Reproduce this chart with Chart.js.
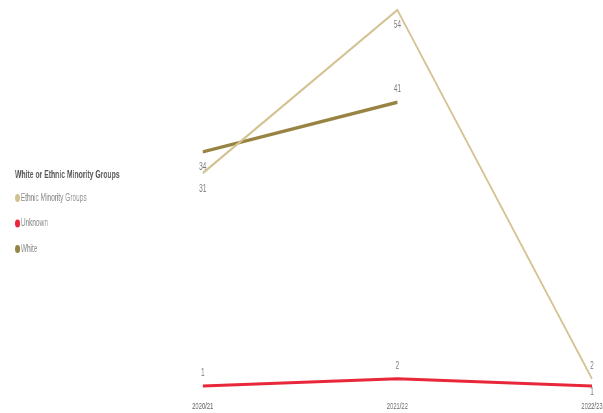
<!DOCTYPE html>
<html>
<head>
<meta charset="utf-8">
<script src="https://cdn.jsdelivr.net/npm/chart.js@4.4.1/dist/chart.umd.min.js"></script>
<style>
  html, body { margin: 0; padding: 0; background: #fff; overflow: hidden; }
  canvas { display: block; }
</style>
</head>
<body>
<!-- the canvas is drawn wider than it is shown, giving the condensed look -->
<canvas id="chart" width="928" height="413" style="width:603px;height:413px"></canvas>
<script>
// Academic years on the x axis
const categories = ['2020/21', '2021/22', '2022/23'];

// Headcount per group
const ethnicMinority = [31, 54, 2];
const unknown = [1, 2, 1];
const white = [34, 41, null];

const legendTitle = 'White or Ethnic Minority Groups';

const FONT = "'Liberation Sans', Arial, sans-serif";

// Value labels next to each point; offset is set per dataset
const pointLabels = {
  id: 'pointLabels',
  afterDatasetsDraw(chart) {
    const ctx = chart.ctx;
    ctx.save();
    ctx.font = `10px ${FONT}`;
    ctx.fillStyle = '#777';
    ctx.textAlign = 'center';
    ctx.textBaseline = 'middle';
    chart.data.datasets.forEach((ds, i) => {
      const meta = chart.getDatasetMeta(i);
      meta.data.forEach((pt, j) => {
        const v = ds.data[j];
        if (v === null || v === undefined) return;
        ctx.fillText(String(v), pt.x, pt.y + ds.labelOffset[j]);
      });
    });
    ctx.restore();
  }
};

// Legend with a title, drawn in the left margin
const sideLegend = {
  id: 'sideLegend',
  afterDraw(chart, args, opts) {
    const ctx = chart.ctx;
    ctx.save();
    ctx.textAlign = 'left';
    ctx.textBaseline = 'middle';
    ctx.font = `bold 10.5px ${FONT}`;
    ctx.fillStyle = '#555';
    ctx.fillText(opts.title, opts.x, opts.top);
    ctx.font = `10px ${FONT}`;
    chart.data.datasets.forEach((ds, i) => {
      const y = opts.top + opts.gap + i * opts.spacing;
      ctx.beginPath();
      ctx.fillStyle = ds.borderColor;
      ctx.arc(opts.x + opts.r, y, opts.r, 0, Math.PI * 2);
      ctx.fill();
      ctx.fillStyle = '#888';
      ctx.fillText(ds.label, opts.x + 2 * opts.r + 1, y);
    });
    ctx.restore();
  }
};

new Chart(document.getElementById('chart'), {
  type: 'line',
  data: {
    labels: categories,
    datasets: [
      {
        label: 'Ethnic Minority Groups',
        data: ethnicMinority,
        borderColor: '#D3C291',
        borderWidth: 2.5,
        labelOffset: [16, 15, -13]
      },
      {
        label: 'Unknown',
        data: unknown,
        borderColor: '#E8283A',
        borderWidth: 3,
        labelOffset: [-13, -13, 6]
      },
      {
        label: 'White',
        data: white,
        borderColor: '#978342',
        borderWidth: 3.5,
        labelOffset: [15, -13, 0]
      }
    ]
  },
  options: {
    responsive: false,
    animation: false,
    layout: { padding: { left: 312, right: 17, top: 10, bottom: 1 } },
    elements: {
      point: { radius: 0, hoverRadius: 0 },
      line: { tension: 0, borderCapStyle: 'butt', borderJoinStyle: 'miter' }
    },
    datasets: { line: { clip: false, spanGaps: false, fill: false } },
    scales: {
      x: {
        offset: false,
        grid: { display: false, drawTicks: false, tickLength: 0 },
        border: { display: false },
        ticks: {
          color: '#666',
          font: { size: 9, family: FONT },
          padding: 8,
          maxRotation: 0,
          autoSkip: false
        },
        afterFit(scale) {
          // fixed axis band; edge labels may run into the layout padding
          scale.height = 19;
          scale.paddingLeft = 0;
          scale.paddingRight = 0;
        }
      },
      y: { display: false, min: 0, max: 54 }
    },
    plugins: {
      legend: { display: false },
      tooltip: { enabled: false },
      sideLegend: { title: legendTitle, x: 23, top: 175, gap: 23, spacing: 25.5, r: 4 }
    }
  },
  plugins: [pointLabels, sideLegend]
});
</script>
</body>
</html>
